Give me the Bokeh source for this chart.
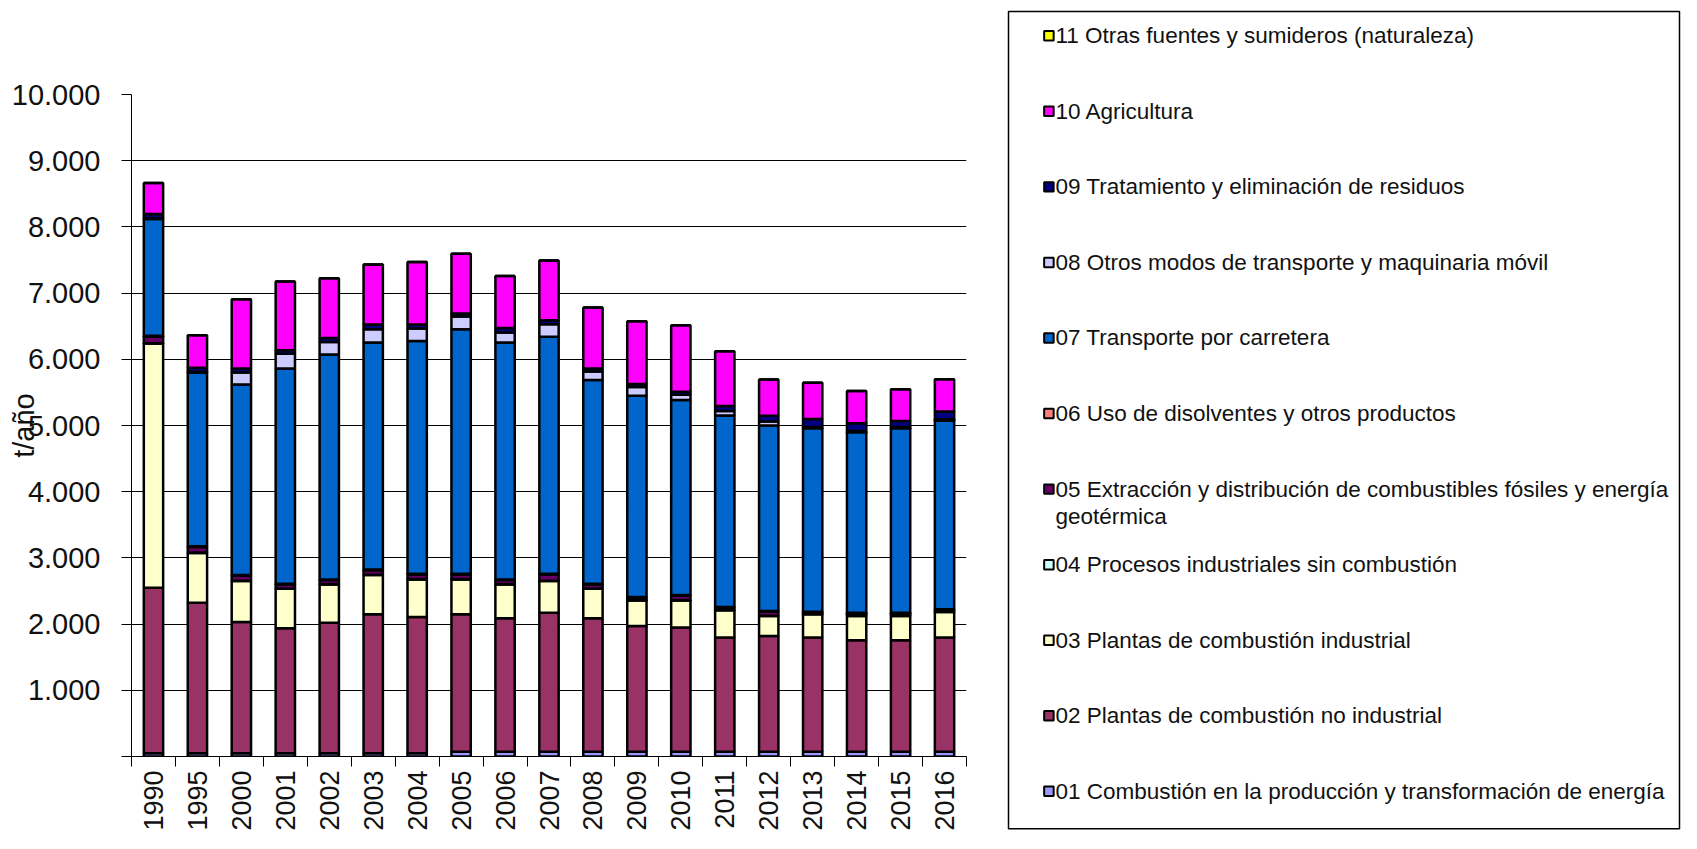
import numpy as np
from bokeh.plotting import figure
from bokeh.models import Range1d, FixedTicker, ColumnDataSource
from bokeh.embed import file_html
from bokeh.resources import INLINE
from bokeh.core.properties import value

years = ["1990", "1995", "2000", "2001", "2002", "2003", "2004", "2005", "2006", "2007",
         "2008", "2009", "2010", "2011", "2012", "2013", "2014", "2015", "2016"]

s01 = [50, 50, 50, 50, 50, 50, 50, 70, 70, 70, 70, 70, 70, 70, 70, 70, 70, 70, 70]
s02 = [2499, 2272, 1982, 1886, 1972, 2097, 2058, 2077, 2017, 2103, 2017, 1902, 1877, 1726, 1752, 1726, 1686, 1686, 1726]
s03 = [3690, 753, 618, 598, 577, 593, 567, 528, 512, 477, 447, 386, 411, 412, 301, 351, 367, 367, 387]
s04 = [5, 5, 5, 5, 5, 5, 5, 5, 5, 5, 5, 5, 5, 5, 5, 5, 5, 5, 5]
s05 = [101, 85, 75, 60, 61, 70, 70, 70, 61, 95, 60, 35, 65, 35, 60, 25, 35, 35, 25]
s06 = [10, 10, 10, 10, 10, 10, 10, 10, 10, 10, 10, 10, 10, 10, 10, 10, 10, 10, 10]
s07 = [1765, 2627, 2881, 3253, 3398, 3429, 3515, 3695, 3579, 3580, 3077, 3042, 2946, 2892, 2801, 2771, 2725, 2786, 2852]
s08 = [10, 10, 180, 220, 190, 200, 190, 190, 150, 190, 130, 130, 80, 70, 60, 20, 20, 20, 20]
s09 = [65, 60, 61, 56, 60, 70, 60, 46, 70, 60, 46, 46, 47, 75, 90, 120, 116, 90, 115]
s10 = [468, 491, 1045, 1039, 903, 909, 944, 903, 783, 904, 919, 948, 1003, 828, 547, 548, 487, 477, 487]
s11 = [0, 0, 0, 0, 0, 0, 0, 0, 0, 0, 0, 0, 0, 0, 0, 0, 0, 0, 0]

series_keys = ["s01", "s02", "s03", "s04", "s05", "s06", "s07", "s08", "s09", "s10", "s11"]
series_values = [s01, s02, s03, s04, s05, s06, s07, s08, s09, s10, s11]
series_labels = [
    "01 Combustión en la producción y transformación de energía",
    "02 Plantas de combustión no industrial",
    "03 Plantas de combustión industrial",
    "04 Procesos industriales sin combustión",
    "05 Extracción y distribución de combustibles fósiles y energía\ngeotérmica",
    "06 Uso de disolventes y otros productos",
    "07 Transporte por carretera",
    "08 Otros modos de transporte y maquinaria móvil",
    "09 Tratamiento y eliminación de residuos",
    "10 Agricultura",
    "11 Otras fuentes y sumideros (naturaleza)",
]
series_colors = ["#9999FF", "#993366", "#FFFFCC", "#CCFFFF", "#660066", "#FF8080",
                 "#0066CC", "#CCCCFF", "#000080", "#FF00FF", "#FFFF00"]

y_ticks = [0, 1000, 2000, 3000, 4000, 5000, 6000, 7000, 8000, 9000, 10000]
y_tick_labels = ["", "1.000", "2.000", "3.000", "4.000", "5.000", "6.000", "7.000", "8.000", "9.000", "10.000"]
y_title = "t/año"

FONT = "Liberation Sans"
TXT = "#111111"

W, H = 1681, 833
LEFT, TOP, FW, FH = 131, 94, 835, 665

data = {"x": list(range(len(years)))}
for k, v in zip(series_keys, series_values):
    data[k] = v
src = ColumnDataSource(data)

n = len(years)
p = figure(width=W, height=H, output_backend="svg", toolbar_location=None,
           x_range=Range1d(-0.5, n - 0.5), y_range=Range1d(0, 10000),
           min_border_left=LEFT, min_border_right=W - LEFT - FW,
           min_border_top=TOP, min_border_bottom=H - TOP - FH)
p.outline_line_color = None
p.background_fill_color = "white"
p.border_fill_color = "white"

p.vbar_stack(series_keys, x="x", width=0.44, source=src,
             fill_color=series_colors, line_color="black", line_width=2.5)

p.xgrid.visible = False
p.ygrid.ticker = FixedTicker(ticks=y_ticks[1:])
p.ygrid.grid_line_color = "black"
p.ygrid.grid_line_width = 1

yax = p.yaxis[0]
yax.ticker = FixedTicker(ticks=y_ticks, minor_ticks=[])
yax.major_label_overrides = {t: l for t, l in zip(y_ticks, y_tick_labels)}
yax.axis_line_color = "black"
yax.major_tick_line_color = "black"
yax.major_tick_out = 10
yax.major_tick_in = 0
yax.minor_tick_line_color = None
yax.major_label_standoff = 21
yax.major_label_text_font = FONT
yax.major_label_text_font_size = "29px"
yax.major_label_text_color = TXT
yax.axis_label = y_title
yax.axis_label_text_font = FONT
yax.axis_label_text_font_size = "29px"
yax.axis_label_text_font_style = "normal"
yax.axis_label_text_color = TXT
yax.axis_label_standoff = -31

xax = p.xaxis[0]
xax.ticker = FixedTicker(ticks=list(range(n)), minor_ticks=[i - 0.5 for i in range(n + 1)])
xax.major_label_overrides = {i: y for i, y in enumerate(years)}
xax.major_label_orientation = np.pi / 2
xax.axis_line_color = "black"
xax.major_tick_line_color = None
xax.major_tick_out = 10
xax.major_tick_in = 0
xax.minor_tick_line_color = "black"
xax.minor_tick_out = 10
xax.minor_tick_in = 0
xax.major_label_standoff = 4
xax.major_label_text_font = FONT
xax.major_label_text_font_size = "27px"
xax.major_label_text_color = TXT

# Legend drawn outside the frame, in canvas pixel coordinates (y downwards)
p.extra_x_ranges = {"px": Range1d(LEFT, LEFT + FW)}
p.extra_y_ranges = {"px": Range1d(TOP + FH, TOP)}

p.quad(left=[1008], right=[W - 2], top=[10.7], bottom=[H - 1.5],
       fill_color=None, line_color="black", line_width=1.5,
       x_range_name="px", y_range_name="px", level="overlay")

order = list(range(len(series_labels)))[::-1]
step = 75.9
first_y = 35
ys = [first_y + step * j for j in range(len(order))]
cols = [series_colors[i] for i in order]
first_lines = [series_labels[i].split("\n")[0] for i in order]
p.rect(x=[1048.4] * len(order), y=ys, width=9.5, height=9.5,
       fill_color=cols, line_color="black", line_width=2,
       x_range_name="px", y_range_name="px", level="overlay")
p.text(x=[1055] * len(order), y=ys, text=first_lines, text_baseline="middle",
       text_font=value(FONT), text_font_size="22.5px", text_color=TXT,
       x_range_name="px", y_range_name="px", level="overlay")
extra_x, extra_y, extra_t = [], [], []
for j, i in enumerate(order):
    parts = series_labels[i].split("\n")
    for k, part in enumerate(parts[1:], start=1):
        extra_x.append(1055)
        extra_y.append(ys[j] + 28 * k)
        extra_t.append(part)
if extra_t:
    p.text(x=extra_x, y=extra_y, text=extra_t, text_baseline="middle",
           text_font=value(FONT), text_font_size="22.5px", text_color=TXT,
           x_range_name="px", y_range_name="px", level="overlay")

open("out.html", "w").write(file_html(p, INLINE))
